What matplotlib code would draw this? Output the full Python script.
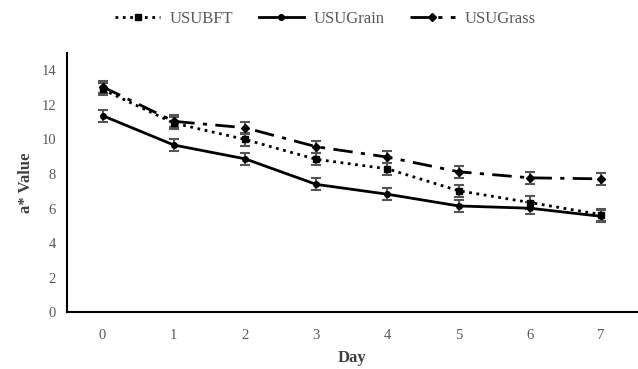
import matplotlib
matplotlib.use("Agg")
import matplotlib.pyplot as plt

# chart values
days = [0, 1, 2, 3, 4, 5, 6, 7]
usubft = [12.9, 10.95, 10.0, 8.85, 8.3, 7.03, 6.35, 5.65]
usugrain = [11.38, 9.68, 8.88, 7.4, 6.83, 6.15, 6.02, 5.55]
usugrass = [13.05, 11.05, 10.68, 9.58, 8.98, 8.13, 7.78, 7.72]
err = 0.35

plt.rcParams['font.family'] = ['Liberation Serif', 'DejaVu Serif']
grey = '#595959'

fig = plt.figure(figsize=(6.38, 3.69), dpi=100)
ax = fig.add_axes([0.105, 0.154, 0.893, 0.702])

ebar = dict(yerr=err, ecolor='#555555', elinewidth=1.5, capsize=3.5, capthick=1.5)
ax.errorbar(days, usubft, color='black', linestyle=':', linewidth=2,
            marker='s', markersize=5, label='USUBFT', **ebar)
ax.errorbar(days, usugrain, color='black', linestyle='-', linewidth=2,
            marker='o', markersize=4, label='USUGrain', **ebar)
ax.errorbar(days, usugrass, color='black', linestyle=(0, (7, 3, 1.5, 3)), linewidth=2,
            marker='D', markersize=4.5, label='USUGrass', **ebar)

ax.set_xlim(-0.5, 7.5)
ax.set_ylim(0, 15)
ax.set_yticks(range(0, 15, 2))
ax.set_xticks(days)
ax.tick_params(length=0, labelsize=10.5, colors=grey, pad=8)
ax.tick_params(axis='x', pad=12)
for s in ['top', 'right']:
    ax.spines[s].set_visible(False)
ax.spines['left'].set_linewidth(1.5)
ax.spines['bottom'].set_linewidth(1.5)

ax.set_xlabel('Day', fontsize=12, fontweight='bold', color='#404040', labelpad=6)
ax.set_ylabel('a* Value', fontsize=12, fontweight='bold', color='#404040', labelpad=5)

handles, labels = ax.get_legend_handles_labels()
handles = [h[0] for h in handles]
fig.legend(handles, labels, loc='upper center', bbox_to_anchor=(0.51, 1.01), ncol=3,
           frameon=False, fontsize=12, labelcolor=grey, handlelength=2.7,
           columnspacing=1.5, handletextpad=0.6)

fig.savefig('out.png', dpi=100)
